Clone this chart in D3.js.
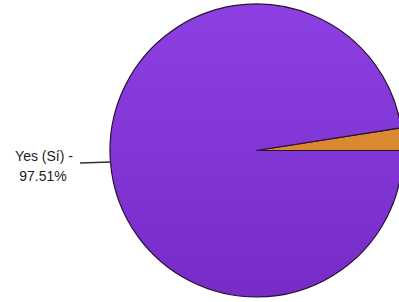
<!DOCTYPE html>
<html><head><meta charset="utf-8">
<script src="https://cdn.jsdelivr.net/npm/d3@7"></script>
<style>html,body{margin:0;padding:0;background:#fff;overflow:hidden}</style>
</head><body>
<svg id="c" width="399" height="302"></svg>
<script>
const categories = ["No", "Yes (Sí)"];
const values = [2.49, 97.51];
const colors = ["#d98a30", "#8438dc"];

const svg = d3.select("#c");
const cx = 256.5, cy = 150.5, r = 146.5;
const defs = svg.append("defs");
const g1 = defs.append("linearGradient").attr("id","gp").attr("x1",0).attr("y1",0).attr("x2",0).attr("y2",1);
g1.append("stop").attr("offset","0%").attr("stop-color","#8c40e2");
g1.append("stop").attr("offset","100%").attr("stop-color","#772cc8");

const total = d3.sum(values);
const start = Math.PI/2 - values[0]/total*2*Math.PI;
const pie = d3.pie().sort(null).startAngle(start).endAngle(start + 2*Math.PI);
const arcs = pie(values);
const arc = d3.arc().innerRadius(0).outerRadius(r);
const g = svg.append("g").attr("transform", `translate(${cx},${cy})`);
g.selectAll("path").data(arcs).join("path")
  .attr("d", arc)
  .attr("fill", (d,i) => i===1 ? "url(#gp)" : colors[i])
  .attr("stroke", "#2a1030").attr("stroke-width", 1.2);

// label for Yes
const ly = 163;
const lx = cx - Math.sqrt(r*r - (ly-cy)*(ly-cy));
svg.append("line").attr("x1", 80).attr("y1", ly).attr("x2", lx).attr("y2", ly-1)
  .attr("stroke", "#333").attr("stroke-width", 1.5);
const t = svg.append("text").attr("text-anchor","middle")
  .attr("font-family","Liberation Sans, Arial, sans-serif").attr("font-size",14).attr("fill","#222");
t.append("tspan").attr("x",44).attr("y",161).text(categories[1] + " -");
t.append("tspan").attr("x",43).attr("y",181).text(values[1].toFixed(2) + "%");
</script>
</body></html>
